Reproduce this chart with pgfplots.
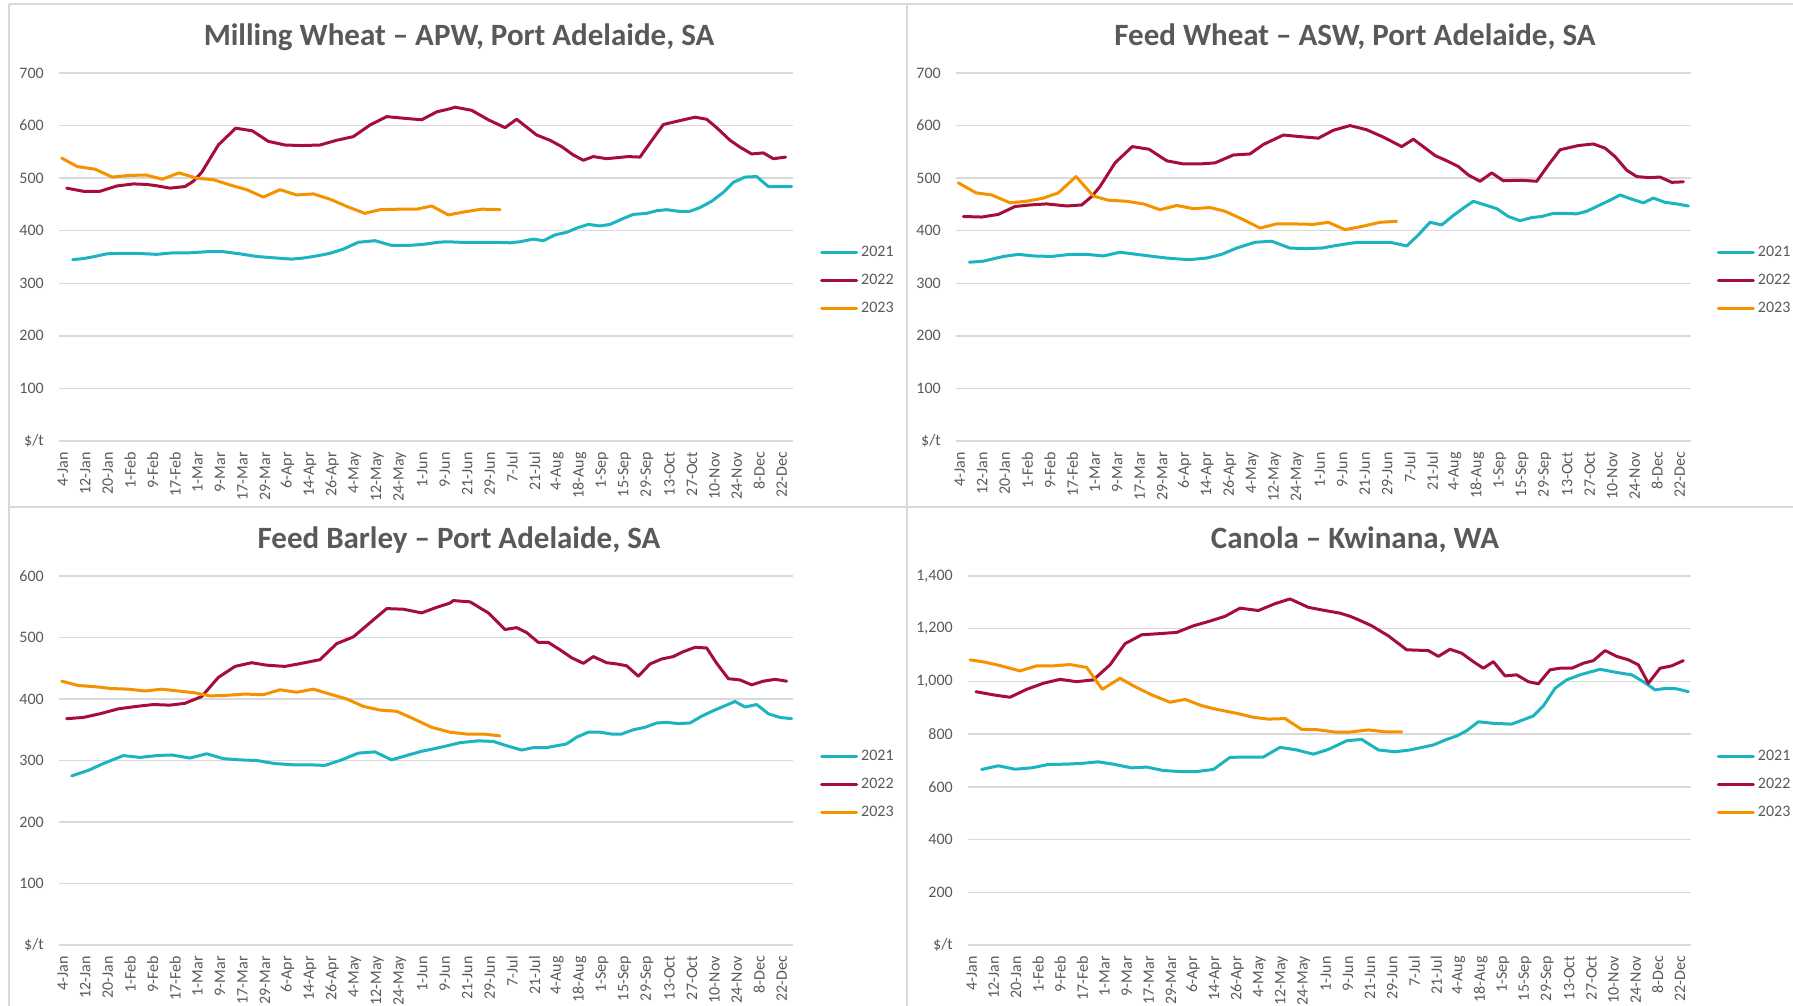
\documentclass[border=0pt]{standalone}
\usepackage{fontspec}
\setmainfont{Carlito}
\usepackage{pgfplots}
\pgfplotsset{compat=1.18}
\definecolor{c21}{RGB}{27,180,192}
\definecolor{c22}{RGB}{165,14,60}
\definecolor{c23}{RGB}{244,146,0}
\definecolor{txt}{RGB}{89,89,89}
\definecolor{grd}{RGB}{217,217,217}
\newcommand{\tickfont}{\fontsize{16bp}{19bp}\selectfont}
\pgfplotsset{
  panel/.style={
    scale only axis,
    xmin=-0.5, xmax=97.5,
    axis line style={draw=none},
    tick style={draw=none},
    major tick length=0pt,
    ymajorgrids,
    grid style={grd, line width=1.3bp},
    xtick={0,3,...,96},
    xticklabels={4-Jan,12-Jan,20-Jan,1-Feb,9-Feb,17-Feb,1-Mar,9-Mar,17-Mar,29-Mar,6-Apr,14-Apr,26-Apr,4-May,12-May,24-May,1-Jun,9-Jun,21-Jun,29-Jun,7-Jul,21-Jul,4-Aug,18-Aug,1-Sep,15-Sep,29-Sep,13-Oct,27-Oct,10-Nov,24-Nov,8-Dec,22-Dec},
    xticklabel style={rotate=90, anchor=east, inner sep=0pt, font=\tickfont, text=txt},
    xticklabel shift=11bp,
    yticklabel style={anchor=east, inner sep=0pt, font=\tickfont, text=txt},
    yticklabel shift=15bp,
    every axis plot/.append style={line width=3bp, line join=round, line cap=round},
    legend style={draw=none, fill=none, inner sep=0pt, anchor=west,
      font=\tickfont, text=txt,
      nodes={inner sep=0pt, text height=11bp, text depth=3bp},
      row sep=14bp, column sep=3bp},
    legend cell align=left,
    legend image code/.code={\draw[#1] (0bp,0bp) -- (35bp,0bp);},
  }
}
\begin{document}
\begin{tikzpicture}
\path[use as bounding box] (0bp,0bp) rectangle (1793bp,1006bp);
\draw[grd, line width=1.5bp] (9bp,1002bp) -- (1793bp,1002bp);
\draw[grd, line width=1.5bp] (9bp,499bp) -- (1793bp,499bp);
\draw[grd, line width=1.5bp] (9bp,1002bp) -- (9bp,0bp);
\draw[grd, line width=1.5bp] (907bp,1002bp) -- (907bp,0bp);

\node[anchor=base, text=txt, font=\fontsize{31bp}{36bp}\selectfont\bfseries] at (459bp,960bp) {Milling Wheat \textendash{} APW, Port Adelaide, SA};
\node[anchor=base, text=txt, font=\fontsize{31bp}{36bp}\selectfont\bfseries] at (1355bp,960bp) {Feed Wheat \textendash{} ASW, Port Adelaide, SA};
\node[anchor=base, text=txt, font=\fontsize{31bp}{36bp}\selectfont\bfseries] at (459bp,457bp) {Feed Barley \textendash{} Port Adelaide, SA};
\node[anchor=base, text=txt, font=\fontsize{31bp}{36bp}\selectfont\bfseries] at (1355bp,457bp) {Canola \textendash{} Kwinana, WA};

% Milling Wheat
\begin{axis}[panel, at={(59bp,565bp)}, anchor=south west, width=734bp, height=368bp,
  ymin=0, ymax=700, ytick={0,100,...,700}, yticklabels={\$/t,100,200,300,400,500,600,700},
  legend style={at={(1.0368,0.4348)}}]
\addplot[c21] coordinates {(1.32,345) (2.75,347) (4.30,351) (5.86,356) (7.64,357) (9.64,357) (11.2,356) (12.54,355) (14.76,358) (16.99,358) (19.21,360) (21.44,360) (23.66,356) (25.89,351) (28.56,348) (30.56,346) (32.12,348) (33.9,352) (35.68,357) (37.46,365) (39.46,378) (41.69,381) (43.91,372) (46.14,372) (48.14,374) (50.14,378) (51.25,379) (53.04,378) (55.27,378) (57.49,378) (59.72,377) (61.05,379) (62.83,384) (64.17,381) (65.72,392) (67.28,397) (68.62,405) (70.17,412) (71.73,409) (73.07,412) (74.62,422) (76.18,431) (77.96,433) (79.3,438) (80.63,440) (82.19,437) (83.75,437) (85.08,444) (86.64,456) (88.2,473) (89.53,492) (91.09,502) (92.65,503) (94.21,484) (95.76,484) (97.32,484)};
\addplot[c22] coordinates {(0.52,481) (2.75,475) (4.97,475) (7.2,485) (9.42,489) (11.2,488) (12.32,486) (14.32,481) (16.32,484) (17.43,494) (18.55,511) (20.77,563) (23.09,595) (25.31,590) (27.45,570) (29.67,563) (31.9,562) (34.35,563) (36.57,572) (38.8,579) (41.02,601) (43.25,617) (45.47,614) (47.92,611) (49.92,626) (51.7,632) (52.37,635) (54.6,629) (56.82,611) (59.05,596) (60.6,612) (63.28,582) (65.06,572) (66.61,560) (68.17,544) (69.51,534) (70.84,541) (72.62,537) (75.52,541) (77.07,540) (78.41,567) (80.19,602) (81.97,608) (84.42,616) (85.97,612) (87.31,596) (89.09,572) (90.42,559) (91.98,546) (93.54,548) (94.87,537) (96.52,540)};
\addplot[c23] coordinates {(-0.14,538) (1.95,522) (4.31,517) (6.62,502) (8.76,505) (11.07,506) (13.3,498) (15.52,510) (17.88,500) (20.1,497) (22.33,487) (24.56,478) (26.78,464) (29,478) (31.23,468) (33.46,470) (35.68,460) (38.13,445) (40.35,433) (42.36,440) (45.03,441) (47.25,441) (49.26,447) (51.48,430) (53.71,436) (55.93,441) (58.38,440)};
\legend{2021,2022,2023}
\end{axis}

% Feed Wheat
\begin{axis}[panel, at={(956bp,565bp)}, anchor=south west, width=735bp, height=368bp,
  ymin=0, ymax=700, ytick={0,100,...,700}, yticklabels={\$/t,100,200,300,400,500,600,700},
  legend style={at={(1.035,0.4348)}}]
\addplot[c21] coordinates {(1.28,340) (3.14,342) (5.81,351) (7.81,355) (9.81,352) (12.25,351) (14.7,355) (16.92,355) (19.14,352) (21.37,359) (23.59,355) (25.81,351) (27.59,348) (29.37,346) (30.7,345) (32.92,348) (34.92,355) (36.92,367) (39.37,378) (41.59,380) (44.03,367) (46.03,366) (48.26,367) (50.26,372) (52.03,376) (53.15,378) (55.37,378) (57.37,378) (59.59,371) (61.15,392) (62.7,416) (64.26,411) (65.81,429) (67.15,443) (68.48,456) (70.04,449) (71.59,442) (73.15,427) (74.7,419) (76.26,425) (77.59,427) (79.15,433) (80.7,433) (82.26,432) (83.59,437) (85.37,449) (86.7,458) (88.04,468) (89.59,460) (91.15,453) (92.48,462) (94.04,454) (95.59,451) (97.15,447)};
\addplot[c22] coordinates {(0.48,427) (2.92,426) (5.14,431) (7.37,446) (9.37,449) (11.59,451) (14.26,447) (16.26,449) (17.59,465) (18.7,484) (20.7,529) (23.01,560) (25.23,555) (27.59,533) (29.81,527) (32.03,527) (34.03,529) (36.48,544) (38.7,546) (40.48,564) (43.15,582) (45.37,579) (47.81,576) (49.81,591) (52.04,600) (54.26,592) (56.48,578) (58.93,560) (60.48,574) (63.37,543) (64.93,533) (66.48,522) (67.81,506) (69.37,494) (70.93,510) (72.48,495) (74.93,496) (76.93,494) (78.48,525) (80.04,554) (82.48,562) (84.48,565) (86.04,557) (87.37,541) (88.93,515) (90.26,503) (91.81,501) (93.37,502) (94.93,492) (96.48,493)};
\addplot[c23] coordinates {(-0.19,491) (2.17,472) (4.26,468) (6.7,453) (8.92,456) (11.14,462) (13.14,472) (15.5,503) (17.81,466) (19.81,458) (22.25,456) (24.48,451) (26.7,440) (28.92,448) (31.14,442) (33.37,444) (35.37,437) (37.81,421) (40.03,405) (42.26,413) (44.48,413) (47.14,412) (49.14,416) (51.37,402) (53.59,408) (56.04,416) (58.26,418)};
\legend{2021,2022,2023}
\end{axis}

% Feed Barley
\begin{axis}[panel, at={(59bp,61bp)}, anchor=south west, width=734bp, height=369bp,
  ymin=0, ymax=600, ytick={0,100,...,600}, yticklabels={\$/t,100,200,300,400,500,600},
  legend style={at={(1.0368,0.4355)}}]
\addplot[c21] coordinates {(1.19,275) (3.42,284) (5.42,295) (8.09,308) (10.31,305) (12.54,308) (14.54,309) (16.99,304) (19.21,311) (21.44,303) (23.66,301) (25.89,300) (28.34,295) (30.79,293) (33.01,293) (35.01,292) (37.02,300) (39.46,312) (41.69,314) (43.91,301) (46.14,309) (47.92,315) (49.92,320) (51.7,325) (53.04,329) (55.49,332) (57.49,331) (59.27,324) (61.27,317) (62.83,321) (64.61,321) (67.28,327) (68.62,338) (70.17,346) (71.73,346) (73.29,343) (74.62,343) (76.18,350) (77.74,354) (79.3,361) (80.63,362) (82.19,360) (83.75,361) (85.3,372) (86.86,381) (88.42,389) (89.76,396) (91.09,387) (92.65,391) (94.21,376) (95.76,370) (97.32,368)};
\addplot[c22] coordinates {(0.52,368) (2.75,370) (4.97,376) (7.42,384) (9.87,388) (12.09,391) (14.32,390) (16.32,393) (18.55,404) (20.77,435) (23,453) (25.22,459) (27.23,455) (29.67,453) (31.9,458) (34.35,464) (36.57,490) (38.8,501) (41.02,524) (43.25,547) (45.47,546) (47.92,540) (49.92,549) (51.7,556) (52.15,560) (54.38,558) (56.82,540) (59.05,513) (60.61,516) (61.94,508) (63.5,492) (64.83,492) (66.39,480) (67.95,467) (69.51,458) (70.84,469) (72.62,459) (73.96,457) (75.29,454) (76.85,437) (78.41,457) (79.96,465) (81.52,469) (82.86,477) (84.42,484) (85.97,483) (87.31,458) (88.87,433) (90.42,431) (91.98,423) (93.54,429) (95.1,432) (96.65,429)};
\addplot[c23] coordinates {(-0.14,429) (2.08,422) (4.31,420) (6.53,417) (8.76,416) (10.98,413) (13.21,416) (15.43,413) (17.66,410) (19.66,405) (21.89,406) (24.33,408) (26.78,407) (29,415) (31.23,411) (33.46,416) (35.68,408) (37.91,400) (40.13,388) (42.36,382) (44.58,380) (46.81,368) (49.26,354) (51.7,346) (53.93,343) (56.16,343) (58.38,340)};
\legend{2021,2022,2023}
\end{axis}

% Canola
\begin{axis}[panel, at={(968bp,61bp)}, anchor=south west, width=723bp, height=369bp,
  ymin=0, ymax=1400, ytick={0,200,...,1400}, yticklabels={\$/t,200,400,600,800,{1,000},{1,200},{1,400}},
  legend style={at={(1.0356,0.4355)}}]
\addplot[c21] coordinates {(1.35,666) (3.61,680) (5.87,667) (8.13,672) (10.39,685) (12.65,686) (14.91,689) (17.17,695) (19.2,686) (21.69,672) (23.72,675) (25.98,662) (28.24,658) (30.5,658) (32.76,666) (35.02,712) (37.28,713) (39.53,713) (41.79,750) (44.05,740) (46.31,724) (48.35,742) (50.83,775) (52.86,780) (55.12,740) (57.38,733) (59.41,740) (62.58,759) (64.38,780) (65.74,793) (67.09,813) (68.68,847) (70.71,841) (73.19,838) (76.13,869) (77.49,907) (79.07,974) (80.65,1006) (82.46,1025) (85.17,1046) (87.43,1034) (89.46,1025) (91.04,999) (92.63,968) (94.21,974) (95.56,972) (97.14,961)};
\addplot[c22] coordinates {(0.58,961) (2.93,949) (5.19,940) (7.45,970) (9.71,993) (11.97,1008) (14.23,999) (16.49,1006) (18.75,1063) (20.78,1143) (23.04,1177) (25.3,1181) (27.79,1186) (30.05,1211) (32.3,1229) (34.34,1247) (36.37,1278) (38.86,1269) (41.12,1295) (43.15,1313) (45.64,1281) (47.89,1269) (49.93,1259) (51.3,1247) (52.18,1237) (54.22,1211) (56.47,1173) (58.96,1120) (61.9,1117) (63.25,1095) (64.83,1122) (66.42,1107) (68,1075) (69.35,1050) (70.71,1075) (72.29,1021) (73.87,1025) (75.45,999) (76.81,991) (78.39,1044) (79.75,1050) (81.33,1050) (82.91,1069) (84.27,1079) (85.85,1117) (87.43,1095) (89.01,1082) (90.37,1063) (91.72,993) (93.3,1050) (94.88,1059) (96.47,1079)};
\addplot[c23] coordinates {(-0.23,1082) (1.8,1073) (3.84,1060) (6.55,1040) (8.81,1059) (11.07,1059) (13.33,1064) (15.59,1053) (17.71,970) (20.1,1012) (22.14,980) (24.4,949) (26.88,921) (28.92,932) (31.18,908) (33.21,894) (35.92,879) (38.18,864) (40.21,857) (42.47,859) (44.73,818) (46.76,817) (49.25,808) (51.28,808) (53.76,816) (56.02,809) (58.28,809)};
\legend{2021,2022,2023}
\end{axis}
\end{tikzpicture}
\end{document}
